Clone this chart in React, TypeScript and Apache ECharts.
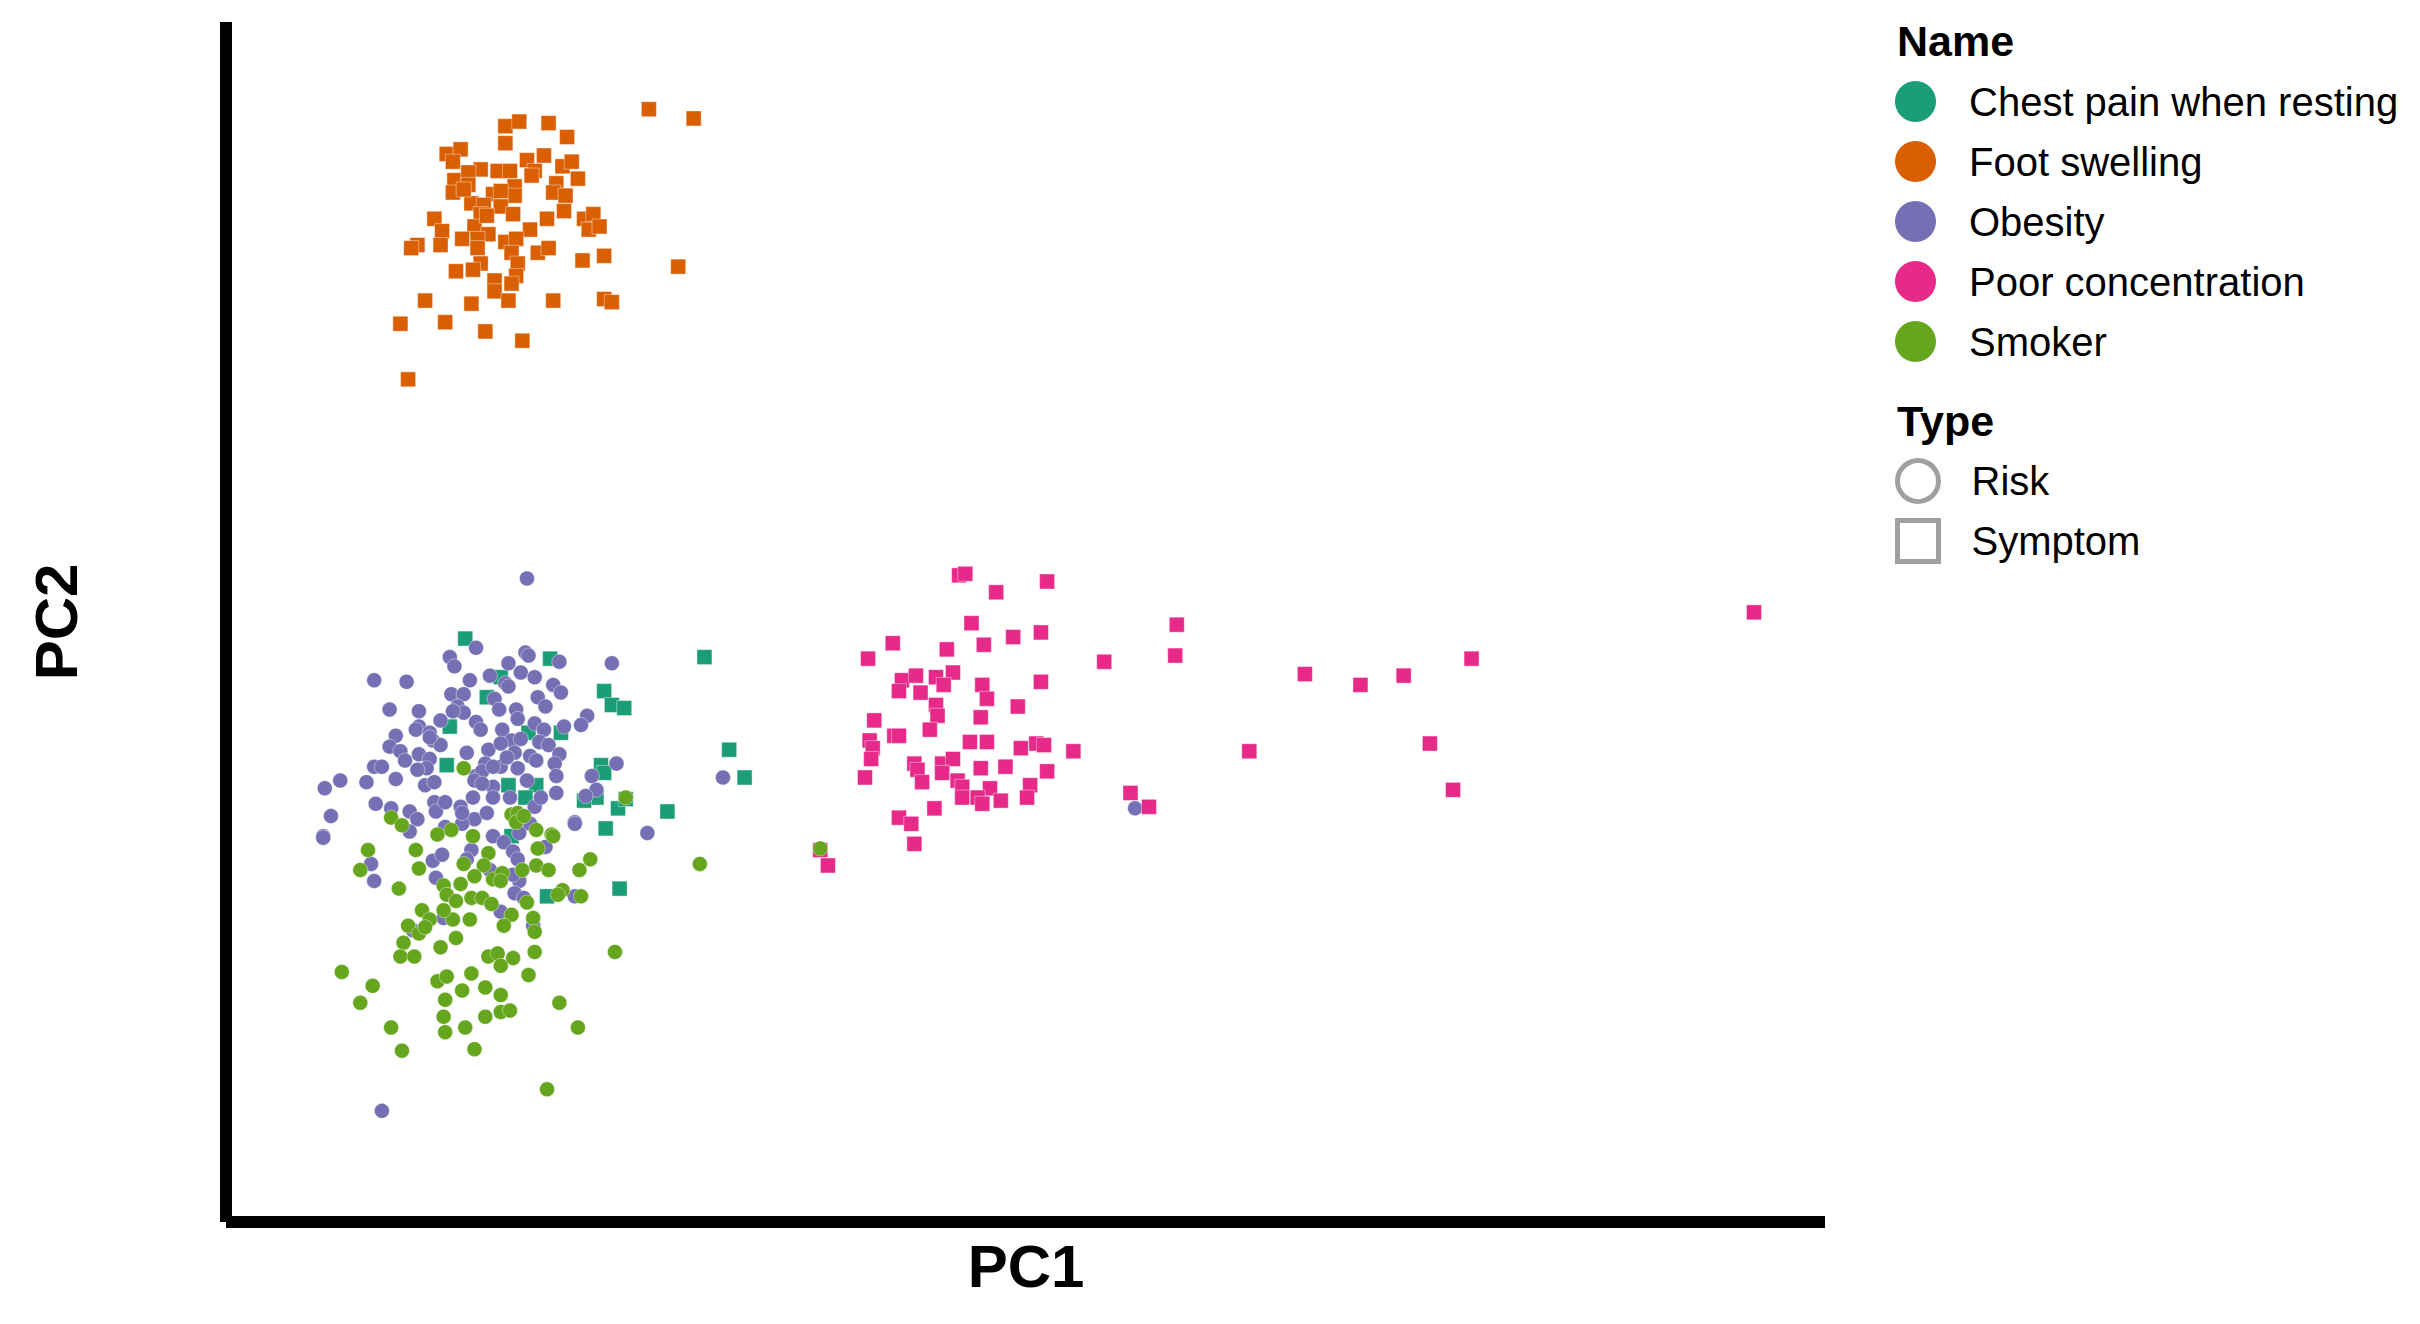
import React, { useEffect, useRef } from "react";
import * as echarts from "echarts";

const names = ["Chest pain when resting", "Foot swelling", "Obesity", "Poor concentration", "Smoker"];
const colors = ["#1B9E77", "#D95F02", "#7570B3", "#E7298A", "#66A61E"];
const types = ["Symptom", "Symptom", "Risk", "Symptom", "Risk"];
const typeNames = ["Risk", "Symptom"];

const chestPain: number[][] = [
  [15.5,37.8],[17.8,35.3],[16.9,34.0],[14.5,32.1],[19.6,31.7],[14.3,29.6],[18.3,28.3],[20.1,28.3],[19.4,27.5],[18.5,25.0],
  [21.0,36.5],[31.0,36.6],[24.5,34.4],[25.0,33.5],[25.8,33.3],[21.7,31.7],[32.6,30.6],[33.6,28.8],[24.3,29.6],[24.5,29.1],
  [24.0,27.5],[23.2,27.3],[25.4,26.8],[25.9,27.4],[28.6,26.6],[24.6,25.5],[20.8,21.1],[25.5,21.6]
];

const footSwelling: number[][] = [
  [27.4,72.1],[30.3,71.5],[18.1,71.0],[19.0,71.3],[20.9,71.2],[22.1,70.3],[18.1,69.9],[14.3,69.2],[15.2,69.5],[14.7,68.7],
  [16.5,68.2],[17.6,68.1],[18.4,68.1],[19.5,68.8],[20.6,69.1],[20.0,68.1],[19.8,67.8],[21.8,68.4],[22.4,68.7],[22.8,67.6],
  [14.8,67.5],[15.7,68.0],[15.7,67.2],[14.7,66.7],[21.4,67.3],[21.2,66.7],[22.0,66.5],[18.7,67.1],[18.7,66.5],[17.3,66.6],
  [17.8,66.8],[15.9,66.0],[16.7,65.9],[17.8,65.8],[18.6,65.3],[16.5,65.3],[21.9,65.5],[20.8,65.0],[13.5,65.0],[23.2,65.0],
  [23.8,65.3],[23.5,64.3],[24.2,64.5],[14.0,64.2],[16.1,64.5],[17.0,64.0],[15.3,63.7],[16.3,63.7],[19.7,64.3],[18.1,63.5],
  [18.8,63.7],[13.9,63.3],[12.4,63.3],[12.0,63.1],[16.3,63.1],[18.5,62.8],[20.2,62.8],[20.9,63.1],[23.1,62.3],[24.5,62.6],
  [18.9,62.1],[16.5,62.1],[14.9,61.6],[16.0,61.7],[29.3,61.9],[17.4,61.0],[18.8,61.3],[18.5,60.8],[17.4,60.3],[12.9,59.7],
  [15.9,59.5],[18.3,59.7],[21.2,59.7],[24.5,59.8],[25.0,59.6],[11.3,58.2],[14.2,58.3],[16.8,57.7],[19.2,57.1],[11.8,54.6],
  [15.4,66.9],[16.9,65.2]
];

const obesity: number[][] = [
  [19.5,41.7],[16.2,37.2],[14.5,36.6],[14.8,36.0],[19.4,36.9],[19.6,36.7],[18.3,36.2],[19.1,35.6],[20.0,35.3],[9.6,35.1],
  [11.7,35.0],[15.8,35.1],[17.1,35.4],[18.1,34.9],[18.3,34.7],[14.6,34.2],[15.4,34.2],[20.2,34.0],[17.4,33.9],[17.7,33.2],
  [18.8,33.2],[10.6,33.2],[12.5,33.1],[15.0,33.4],[15.4,33.0],[13.9,32.5],[16.2,32.4],[16.5,31.9],[18.9,32.6],[20.0,32.3],
  [12.5,32.1],[12.3,31.9],[11.0,31.5],[13.2,31.7],[13.4,31.2],[13.9,30.9],[17.9,31.9],[18.5,31.2],[20.3,31.1],[10.6,30.8],
  [11.3,30.5],[11.6,29.9],[12.5,30.3],[13.2,30.0],[13.0,29.4],[12.4,29.3],[15.6,30.4],[17.0,30.6],[17.8,31.0],[19.1,31.3],
  [19.7,30.2],[9.6,29.5],[10.1,29.5],[7.4,28.6],[6.4,28.1],[9.1,28.5],[11.0,28.7],[12.9,28.3],[13.5,28.5],[16.2,28.9],
  [16.8,29.7],[16.6,29.2],[17.8,29.5],[18.9,29.4],[19.5,28.6],[17.3,28.2],[16.1,28.6],[18.4,27.5],[17.3,27.5],[9.7,27.1],
  [10.7,26.8],[11.9,26.6],[12.4,26.1],[13.5,27.2],[13.6,26.6],[14.2,27.2],[15.2,26.9],[16.0,27.5],[16.1,26.1],[16.9,26.5],
  [15.3,25.8],[14.2,25.6],[6.8,26.3],[6.3,25.0],[11.9,25.3],[17.3,25.0],[19.7,25.8],[20.0,26.9],
  [14.7,33.1],[13.2,31.4],[18.7,30.4],[17.3,29.5],[18.2,30.1],[16.6,28.4],[20.4,27.5],[15.3,26.5],[19.0,25.2],
  [21.6,36.3],[25.0,36.2],[21.2,34.8],[21.7,34.3],[20.7,33.4],[23.4,32.8],[23.0,32.2],[21.9,32.1],[20.6,31.9],[20.3,31.1],
  [20.9,30.9],[21.6,30.3],[20.1,29.9],[21.3,29.7],[21.4,28.9],[25.3,29.7],[23.7,28.9],[24.0,28.0],[23.3,27.6],[21.4,27.8],
  [22.6,25.9],[27.3,25.2],[32.2,28.8],
  [6.3,24.9],[9.4,23.2],[9.6,22.1],[13.4,23.4],[14.0,23.8],[13.6,22.3],[15.9,24.1],[15.6,23.5],[18.0,24.6],[18.6,24.0],
  [18.9,23.5],[20.7,24.3],[19.0,22.1],[18.7,21.3],[19.3,21.0],[22.6,21.1],[17.8,20.1],[14.1,19.7],[12.1,18.9],[19.9,19.2],
  [22.6,25.8],[10.1,7.2],[17.1,22.8],[18.6,22.5],[58.9,26.8]
];

const poorConcentration: number[][] = [
  [47.5,41.9],[47.9,42.0],[49.9,40.8],[53.2,41.5],[48.3,38.8],[51.0,37.9],[52.8,38.2],[49.1,37.4],[43.2,37.5],[46.7,37.1],
  [41.6,36.5],[56.9,36.3],[61.6,38.7],[61.5,36.7],[69.9,35.5],[73.5,34.8],[76.3,35.4],[80.7,36.5],[43.8,35.1],[44.7,35.4],
  [46.0,35.3],[47.1,35.6],[46.5,34.8],[43.6,34.4],[45.0,34.3],[49.0,34.8],[52.8,35.0],[46.0,33.5],[49.3,33.9],[51.3,33.4],
  [42.0,32.5],[46.1,32.8],[48.9,32.7],[45.6,31.9],[41.7,31.2],[41.9,30.7],[41.8,30.0],[41.4,28.8],[43.3,31.5],[43.6,31.5],
  [48.2,31.1],[49.3,31.1],[51.5,30.7],[52.5,31.0],[53.0,30.9],[54.9,30.5],[66.3,30.5],[78.0,31.0],[44.6,29.7],[44.8,29.3],
  [45.1,28.5],[46.4,29.7],[47.1,30.0],[46.4,29.1],[47.4,28.6],[47.7,28.2],[48.9,29.4],[50.5,29.5],[53.2,29.2],[49.5,28.1],
  [52.1,28.3],[51.9,27.5],[50.2,27.3],[47.7,27.5],[48.7,27.5],[49.0,27.1],[45.9,26.8],[43.6,26.2],[44.4,25.8],[44.6,24.5],
  [58.6,27.8],[59.8,26.9],[79.5,28.0],[38.5,24.1],[39.0,23.1],[99.0,39.5]
];

const smoker: number[][] = [
  [15.4,29.4],[10.7,26.2],[11.4,25.7],[13.7,25.1],[14.6,25.4],[16.0,25.0],[18.5,26.4],[18.9,26.5],[18.8,25.9],[20.1,25.4],
  [19.3,26.3],[25.9,27.5],[21.1,25.1],
  [9.2,24.1],[8.7,22.8],[11.2,21.6],[12.3,24.1],[12.5,22.9],[17.0,23.9],[16.7,23.1],[16.1,22.4],[15.4,23.2],[14.1,21.8],
  [14.3,21.2],[15.2,21.9],[14.9,20.8],[15.9,21.0],[16.6,21.0],[17.2,20.6],[17.3,22.2],[17.9,22.6],[17.8,22.1],[19.2,22.8],
  [20.1,23.1],[20.2,24.2],[21.2,25.0],[20.9,22.8],[22.9,22.8],[23.6,23.5],[21.8,21.5],[21.5,21.2],[23.0,21.1],[19.5,20.7],
  [18.5,19.9],[19.9,19.7],[20.0,18.8],[18.0,19.2],[15.8,19.6],[14.7,19.6],[14.1,20.2],[12.7,20.2],[13.2,19.6],[11.8,19.2],
  [12.5,18.7],[12.9,19.1],[11.5,18.1],[11.3,17.2],[12.2,17.2],[13.9,17.8],[14.9,18.4],[17.0,17.2],[17.6,17.4],[18.6,17.1],
  [17.8,16.6],[20.0,17.5],[25.2,17.5],[7.5,16.2],[9.5,15.3],[8.7,14.2],[13.7,15.6],[14.3,15.9],[15.9,16.1],[15.3,15.0],
  [16.8,15.2],[17.8,14.7],[19.6,16.0],[14.2,14.4],[14.1,13.3],[14.2,12.3],[15.5,12.6],[16.8,13.3],[17.8,13.6],[18.4,13.7],
  [21.6,14.2],[10.7,12.6],[11.4,11.1],[16.1,11.2],[22.8,12.6],[20.8,8.6],[30.7,23.2],[38.5,24.2]
];

const seriesData = [chestPain, footSwelling, obesity, poorConcentration, smoker];

const xRange = [0, 103.6];
const yRange = [0, 77.75];

const FONT = "'Liberation Sans', Arial, Helvetica, sans-serif";

export default function App() {
  const ref = useRef<HTMLDivElement>(null);
  useEffect(() => {
    if (!ref.current) return;
    const chart = echarts.init(ref.current, null, { renderer: "svg" });
    const series: any[] = names.map((n, i) => ({
      name: n,
      type: "scatter",
      data: seriesData[i],
      symbol: types[i] === "Risk" ? "circle" : "rect",
      symbolSize: 15,
      itemStyle: { color: colors[i], borderColor: "rgba(255,255,255,0.7)", borderWidth: 0.6, opacity: 1 },
      emphasis: { disabled: true },
    }));
    typeNames.forEach((t) => {
      series.push({
        name: t,
        type: "scatter",
        data: [],
        symbol: t === "Risk" ? "circle" : "rect",
        itemStyle: { color: "#ffffff", borderColor: "#888888", borderWidth: 5 },
      });
    });
    const legendText = {
      fontSize: 40,
      color: "#000",
      fontFamily: FONT,
      lineHeight: 41,
      padding: [0, 0, 0, 28],
    };
    chart.setOption({
      animation: false,
      backgroundColor: "#ffffff",
      grid: { left: 226, right: 595, top: 22, bottom: 102, containLabel: false },
      xAxis: {
        type: "value",
        min: xRange[0],
        max: xRange[1],
        axisLine: { show: true, onZero: false, lineStyle: { color: "#000", width: 12, cap: "butt" } },
        axisTick: { show: false },
        axisLabel: { show: false },
        splitLine: { show: false },
      },
      yAxis: {
        type: "value",
        min: yRange[0],
        max: yRange[1],
        axisLine: { show: true, onZero: false, lineStyle: { color: "#000", width: 12, cap: "butt" } },
        axisTick: { show: false },
        axisLabel: { show: false },
        splitLine: { show: false },
      },
      legend: [
        {
          data: names.map((n, i) => ({ name: n, icon: "circle", itemStyle: { color: colors[i], borderWidth: 0 } })),
          orient: "vertical",
          left: 1895,
          top: 81,
          padding: 0,
          itemWidth: 41,
          itemHeight: 41,
          itemGap: 19,
          selectedMode: false,
          textStyle: legendText,
        },
        {
          data: [
            { name: "Risk", icon: "circle", itemStyle: { color: "#ffffff", borderColor: "#888888", borderWidth: 5 } },
            { name: "Symptom", icon: "rect", itemStyle: { color: "#ffffff", borderColor: "#888888", borderWidth: 5 } },
          ],
          orient: "vertical",
          left: 1895,
          top: 458,
          padding: 0,
          itemWidth: 41,
          itemHeight: 41,
          itemGap: 14,
          selectedMode: false,
          textStyle: legendText,
        },
      ],
      graphic: [
        {
          type: "text",
          x: 1897,
          y: 41,
          style: { text: "Name", font: `bold 43px ${FONT}`, fill: "#000", textAlign: "left", textVerticalAlign: "middle" },
        },
        {
          type: "text",
          x: 1897,
          y: 421,
          style: { text: "Type", font: `bold 43px ${FONT}`, fill: "#000", textAlign: "left", textVerticalAlign: "middle" },
        },
        {
          type: "text",
          x: 1026,
          y: 1266,
          style: { text: "PC1", font: `bold 60px ${FONT}`, fill: "#000", textAlign: "center", textVerticalAlign: "middle" },
        },
        {
          type: "text",
          x: 56,
          y: 622,
          rotation: Math.PI / 2,
          style: { text: "PC2", font: `bold 60px ${FONT}`, fill: "#000", textAlign: "center", textVerticalAlign: "middle" },
        },
      ],
      series,
    });
    return () => chart.dispose();
  }, []);
  return <div ref={ref} style={{ position: "fixed", left: 0, top: 0, width: 2420, height: 1324, background: "#fff" }} />;
}
